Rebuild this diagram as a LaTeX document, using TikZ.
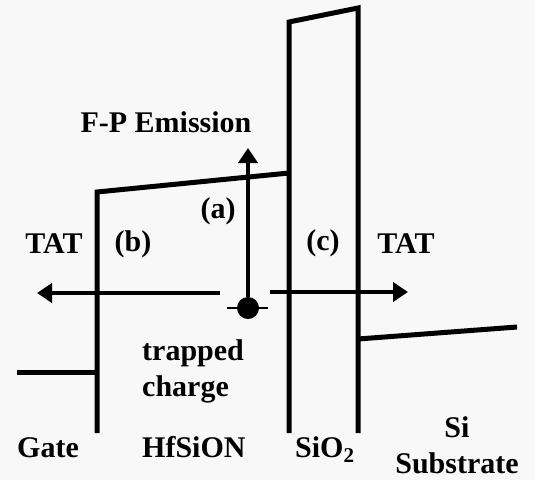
\documentclass[tikz,border=0pt]{standalone}
\usepackage{fontspec}
\setmainfont{Liberation Serif}
\usepackage{tikz}
\usetikzlibrary{arrows.meta}
\definecolor{cPaper}{RGB}{248,248,248}

\begin{document}
\begin{tikzpicture}[x=1pt,y=-1pt,
    band/.style={line width=5pt},
    hop/.style={line width=4pt,-{Triangle[length=15pt,width=19pt]}},
    lbl/.style={font=\fontsize{30}{36}\selectfont\bfseries,inner sep=0pt}]
  % Background
  \fill[cPaper] (0,0) rectangle (535,480);
  \useasboundingbox (0,0) rectangle (535,480);
  % Bands
  \draw[band] (17,372) -- (97,372);
  \draw[band] (97,433) -- (97,192) -- (289,173);
  \draw[band] (289,433) -- (289,22) -- (358,8) -- (358,433);
  \draw[band] (358,339) -- (517,327);
  % Trapped charge
  \draw[line width=2.5pt] (227,308) -- (268,308);
  \node[circle,fill,minimum size=22pt,inner sep=0pt] (trap) at (248,308) {};
  % Emission paths
  \coordinate (fpTop) at (248,148);
  \coordinate (tatLStart) at (220,293);
  \coordinate (tatLEnd) at (37,293);
  \coordinate (tatRStart) at (270,292);
  \coordinate (tatREnd) at (408,292);
  \draw[hop] (trap.north) -- (fpTop);
  \draw[hop] (tatLStart) -- (tatLEnd);
  \draw[hop] (tatRStart) -- (tatREnd);
  % Labels
  \node[lbl,anchor=base] (fpLbl) at (166,132) {F-P Emission};
  \node[lbl,anchor=base] (labA) at (218,218) {(a)};
  \node[lbl,anchor=base] (labB) at (133,251) {(b)};
  \node[lbl,anchor=base] (labC) at (323,250) {(c)};
  \node[lbl,anchor=base] (tatL) at (54,253) {TAT};
  \node[lbl,anchor=base] (tatR) at (406,253) {TAT};
  \node[lbl,anchor=base west] (trapA) at (142,360) {trapped};
  \node[lbl,anchor=base west] (trapB) at (142,396) {charge};
  \node[lbl,anchor=base west] (gate) at (17,457) {Gate};
  \node[lbl,anchor=base west] (hfsion) at (142,457) {HfSiON};
  \node[lbl,anchor=base west] (sio) at (295,457) {SiO\textsubscript{2}};
  \node[lbl,anchor=base] (siA) at (457,437) {Si};
  \node[lbl,anchor=base] (siB) at (457,473) {Substrate};
\end{tikzpicture}
\end{document}
